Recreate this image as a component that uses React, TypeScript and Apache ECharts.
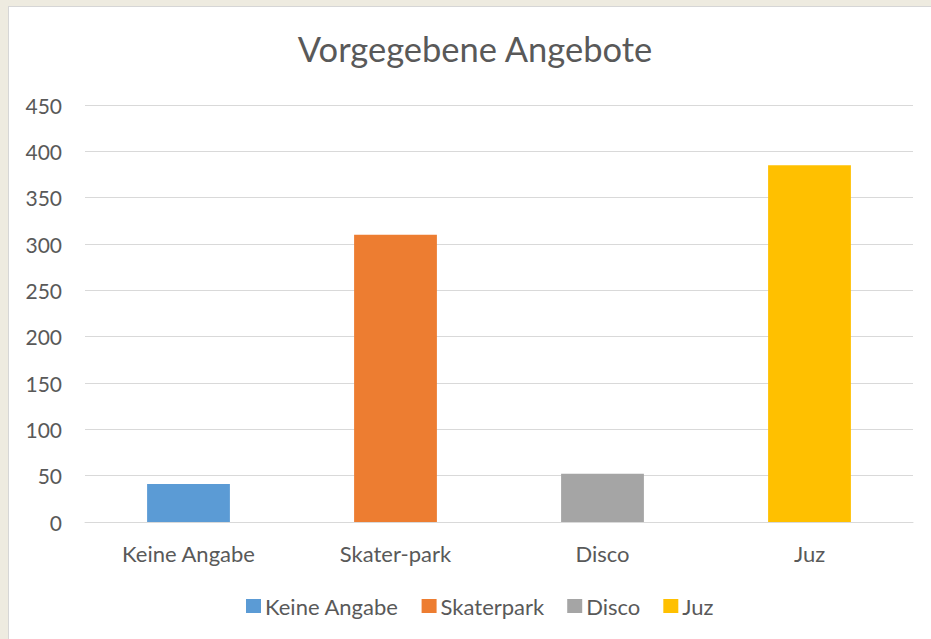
import React, { useEffect, useRef } from "react";
import * as echarts from "echarts";

const categories = ["Keine Angabe", "Skater-park", "Disco", "Juz"];
const legendNames = ["Keine Angabe", "Skaterpark", "Disco", "Juz"];
const values = [41, 310, 52, 385];
const colors = ["#5B9BD5", "#ED7D31", "#A5A5A5", "#FFC000"];
const yTicks = { min: 0, max: 450, interval: 50 };
const titleText = "Vorgegebene Angebote";

const FONT = "Lato";
const TEXT = "#595959";

export default function App() {
  const ref = useRef<HTMLDivElement>(null);
  useEffect(() => {
    if (!ref.current) return;
    const chart = echarts.init(ref.current, undefined, { renderer: "svg" });
    const series = legendNames.map((name, i) => ({
      name,
      type: "bar",
      stack: "all",
      barWidth: "40%",
      itemStyle: { color: colors[i] },
      data: values.map((v, j) => (j === i ? v : null)),
    }));
    chart.setOption({
      animation: false,
      backgroundColor: "#ffffff",
      textStyle: { fontFamily: FONT },
      title: {
        text: titleText,
        left: 466,
        textAlign: "center",
        top: 21,
        padding: 0,
        textStyle: {
          fontFamily: FONT,
          fontSize: 34.5,
          fontWeight: "normal",
          color: TEXT,
          lineHeight: 40,
        },
      },
      grid: { left: 76, right: 18, top: 98, bottom: 117, containLabel: false },
      xAxis: {
        type: "category",
        data: categories,
        axisLine: { lineStyle: { color: "#D9D9D9", width: 1 } },
        axisTick: { show: false },
        axisLabel: {
          color: TEXT,
          fontFamily: FONT,
          fontSize: 22,
          margin: 20,
          lineHeight: 22,
        },
      },
      yAxis: {
        type: "value",
        min: yTicks.min,
        max: yTicks.max,
        interval: yTicks.interval,
        axisLine: { show: false },
        axisTick: { show: false },
        splitLine: { lineStyle: { color: "#D9D9D9", width: 1 } },
        axisLabel: { color: TEXT, fontFamily: FONT, fontSize: 21, margin: 23 },
      },
      legend: {
        data: legendNames,
        left: 237,
        top: 588,
        icon: "rect",
        itemWidth: 15,
        itemHeight: 14,
        itemGap: 23,
        padding: 0,
        textStyle: { color: TEXT, fontFamily: FONT, fontSize: 22, padding: [0, 0, 0, -1] },
      },
      series,
    });
    return () => chart.dispose();
  }, []);
  return (
    <div
      style={{
        position: "absolute",
        left: 0,
        top: 0,
        width: 931,
        height: 639,
        background: "#EEEBE0",
        overflow: "hidden",
      }}
    >
      <div
        style={{
          position: "absolute",
          left: 8,
          top: 6,
          width: 923,
          height: 633,
          borderLeft: "1px solid #D6D6D6",
          borderTop: "1px solid #D6D6D6",
          background: "#ffffff",
        }}
      >
        <div ref={ref} style={{ width: 922, height: 632 }} />
      </div>
    </div>
  );
}
